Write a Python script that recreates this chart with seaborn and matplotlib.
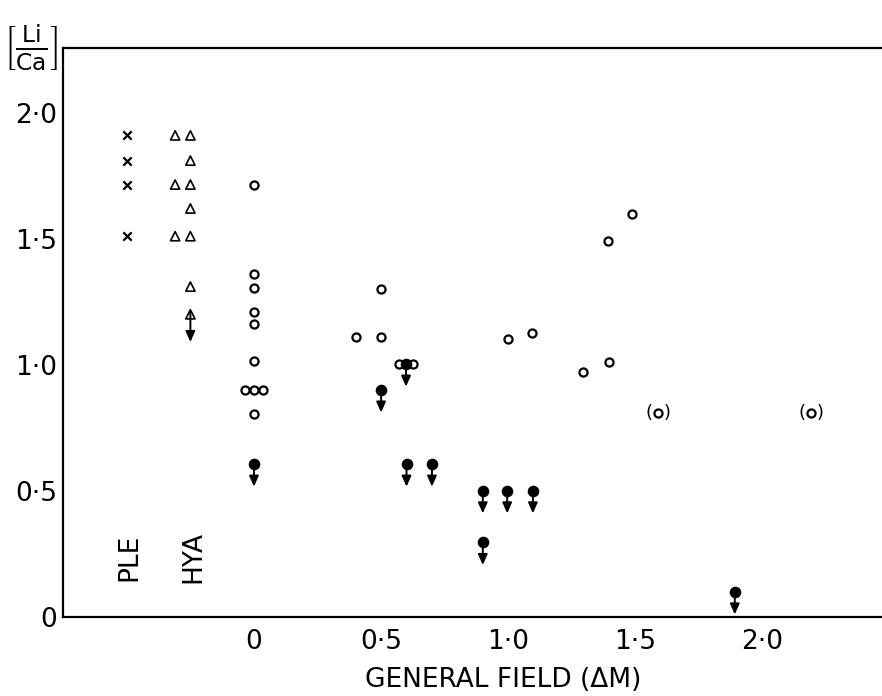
import matplotlib
matplotlib.use("Agg")
import matplotlib.pyplot as plt
import seaborn as sns
import pandas as pd

# PLE points (crosses)
ple_x = [-0.5, -0.5, -0.5, -0.5]
ple_y = [1.91, 1.81, 1.715, 1.51]

# HYA points (open triangles)
hya_x = [-0.31, -0.25, -0.25, -0.31, -0.25, -0.25, -0.31, -0.25, -0.25]
hya_y = [1.91, 1.91, 1.81, 1.715, 1.715, 1.62, 1.51, 1.51, 1.31]
hya_lim_x = [-0.25]
hya_lim_y = [1.2]

# general field, measured values (open circles)
open_x = [0, 0, 0, 0, 0, 0, -0.035, 0, 0.035, 0, 0.4, 0.5, 0.5, 0.572, 0.625,
          1.0, 1.093, 1.294, 1.396, 1.391, 1.488]
open_y = [1.713, 1.36, 1.304, 1.209, 1.162, 1.015, 0.9, 0.9, 0.9, 0.805, 1.108,
          1.30, 1.108, 1.003, 1.003, 1.103, 1.127, 0.972, 1.01, 1.49, 1.60]

# uncertain values, in brackets
paren_x = [1.59, 2.19]
paren_y = [0.807, 0.807]

# upper limits (filled circles with arrows)
upper_x = [0, 0.5, 0.598, 0.6, 0.70, 0.90, 0.996, 1.097, 0.90, 1.891]
upper_y = [0.606, 0.90, 1.003, 0.606, 0.606, 0.50, 0.50, 0.50, 0.295, 0.099]

xticks = [0, 0.5, 1.0, 1.5, 2.0]
xtick_labels = ["0", "0·5", "1·0", "1·5", "2·0"]
yticks = [0, 0.5, 1.0, 1.5, 2.0]
ytick_labels = ["0", "0·5", "1·0", "1·5", "2·0"]

sns.set_style("white")
plt.rcParams['font.family'] = ['DejaVu Sans']
plt.rcParams['mathtext.fontset'] = 'dejavusans'
for key in ["text.color", "axes.labelcolor", "xtick.color", "ytick.color"]:
    plt.rcParams[key] = "black"

fig = plt.figure(figsize=(8.82, 6.96), dpi=100)
ax = fig.add_axes([63 / 882, 79.3 / 696, 819 / 882, 569 / 696])

arrow_len = 0.09
arrow_kw = dict(arrowstyle="-|>,head_length=0.45,head_width=0.2", mutation_scale=14,
                lw=1.4, color="black", shrinkA=0, shrinkB=0)

sns.scatterplot(x=ple_x, y=ple_y, marker="x", s=36, color="black", linewidth=1.6, ax=ax)
sns.scatterplot(x=hya_x + hya_lim_x, y=hya_y + hya_lim_y, marker="^", s=44,
                facecolor="none", edgecolor="black", linewidth=1.2, ax=ax)
sns.scatterplot(x=open_x + paren_x, y=open_y + paren_y, marker="o", s=34,
                facecolor="white", edgecolor="black", linewidth=1.6, ax=ax)
sns.scatterplot(x=upper_x, y=upper_y, marker="o", s=70, color="black",
                edgecolor="black", linewidth=0, ax=ax, zorder=4)

for x, y in zip(upper_x, upper_y):
    ax.annotate("", xy=(x, y - arrow_len), xytext=(x, y), arrowprops=arrow_kw)
for x, y in zip(hya_lim_x, hya_lim_y):
    ax.annotate("", xy=(x, y - 0.11), xytext=(x, y + 0.01), arrowprops=arrow_kw)

for x, y in zip(paren_x, paren_y):
    ax.annotate("(", xy=(x, y), xytext=(-6.5, 0.5), textcoords="offset points",
                ha="center", va="center", fontsize=13)
    ax.annotate(")", xy=(x, y), xytext=(6.5, 0.5), textcoords="offset points",
                ha="center", va="center", fontsize=13)

ax.text(-0.488, 0.237, "PLE", rotation=90, ha="center", va="center", fontsize=19)
ax.text(-0.24, 0.237, "HYA", rotation=90, ha="center", va="center", fontsize=19)

ax.set_xlim(-0.751, 2.47)
ax.set_ylim(0, 2.258)
ax.set_xticks(xticks)
ax.set_xticklabels(xtick_labels, fontsize=19)
ax.set_yticks(yticks)
ax.set_yticklabels(ytick_labels, fontsize=19)
ax.tick_params(axis="y", direction="in", length=6, width=1.5, pad=4)
ax.tick_params(axis="x", direction="in", length=2.5, width=1.5, pad=9)

ax.set_xlabel("GENERAL FIELD (ΔM)", fontsize=19)
ax.xaxis.set_label_coords(0.537, -0.088)
ax.set_ylabel("")

for side in ["left", "bottom", "top"]:
    ax.spines[side].set_linewidth(1.6)
    ax.spines[side].set_color("black")
ax.spines["right"].set_visible(False)

fig.text(31 / 882, 1 - 48 / 696, r"$\left[\frac{\mathsf{Li}}{\mathsf{Ca}}\right]$",
         ha="center", va="center", fontsize=24)

fig.savefig("out.png", dpi=100)
